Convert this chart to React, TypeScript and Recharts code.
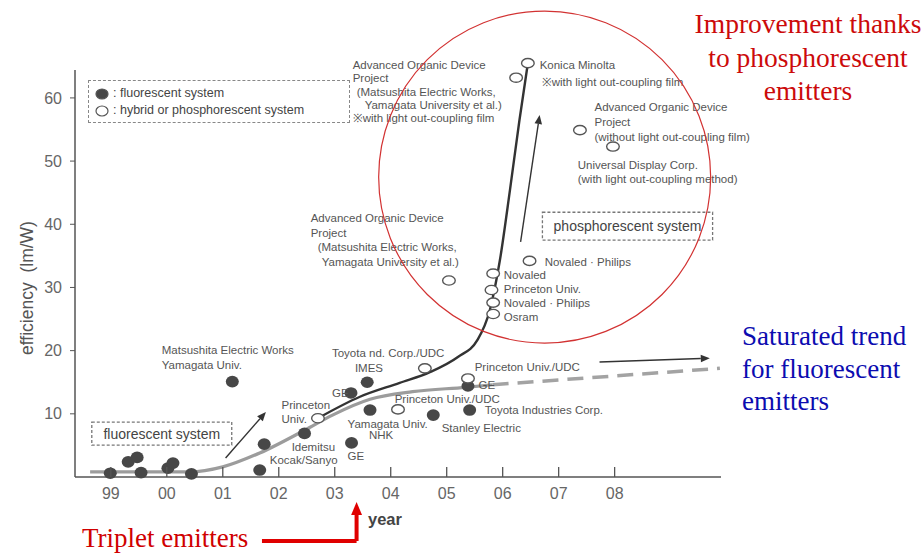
import React from 'react';
import {
  ComposedChart,
  Line,
  Scatter,
  XAxis,
  YAxis,
  ReferenceLine,
  ReferenceDot,
  ReferenceArea,
  Legend,
} from 'recharts';

const SANS = '"Liberation Sans", Arial, sans-serif';
const SERIF = '"Liberation Serif", "Times New Roman", serif';

// axes
const YEAR_TICKS = [1999, 2000, 2001, 2002, 2003, 2004, 2005, 2006, 2007, 2008];
const EFF_TICKS = [10, 20, 30, 40, 50, 60];
const X_DOMAIN = [1998.36, 2009.9];
const Y_DOMAIN = [0, 66];
const Y_AXIS_TOP = 64.4;

// filled dots: fluorescent devices (year, lm/W)
const fluorescentDevices = [
  { year: 1998.99, eff: 0.6 },
  { year: 1999.31, eff: 2.4 },
  { year: 1999.47, eff: 3.1 },
  { year: 1999.54, eff: 0.7 },
  { year: 2000.02, eff: 1.4 },
  { year: 2000.11, eff: 2.2 },
  { year: 2000.44, eff: 0.5 },
  { year: 2001.17, eff: 15.1 },
  { year: 2001.74, eff: 5.2 },
  { year: 2001.66, eff: 1.1 },
  { year: 2002.46, eff: 6.9 },
  { year: 2003.29, eff: 13.3 },
  { year: 2003.58, eff: 15.0 },
  { year: 2003.63, eff: 10.6 },
  { year: 2003.3, eff: 5.4 },
  { year: 2004.76, eff: 9.8 },
  { year: 2005.41, eff: 10.6 },
  { year: 2005.38, eff: 14.4 },
];

// open dots: hybrid or phosphorescent devices
const phosphorescentDevices = [
  { year: 2002.7, eff: 9.3 },
  { year: 2004.13, eff: 10.7 },
  { year: 2004.61, eff: 17.2 },
  { year: 2005.38, eff: 15.6 },
  { year: 2005.04, eff: 31.1 },
  { year: 2005.83, eff: 32.2 },
  { year: 2005.8, eff: 29.6 },
  { year: 2005.83, eff: 27.6 },
  { year: 2005.83, eff: 25.8 },
  { year: 2006.48, eff: 34.2 },
  { year: 2006.45, eff: 65.5 },
  { year: 2006.24, eff: 63.2 },
  { year: 2007.38, eff: 54.9 },
  { year: 2007.97, eff: 52.3 },
];

// hand-drawn trend curves
const fluorescentTrend = [
  { year: 1998.63, eff: 0.8 },
  { year: 2000.41, eff: 0.8 },
  { year: 2001.0, eff: 1.6 },
  { year: 2001.66, eff: 3.8 },
  { year: 2002.46, eff: 7.4 },
  { year: 2002.96, eff: 9.8 },
  { year: 2003.63, eff: 12.3 },
  { year: 2004.39, eff: 13.5 },
  { year: 2005.34, eff: 14.2 },
  { year: 2005.82, eff: 14.6 },
];
const fluorescentOutlook = [
  { year: 2005.82, eff: 14.6 },
  { year: 2009.88, eff: 17.2 },
];
const phosphorescentTrend = [
  { year: 2002.7, eff: 9.3 },
  { year: 2003.45, eff: 12.7 },
  { year: 2004.16, eff: 14.9 },
  { year: 2004.7, eff: 16.6 },
  { year: 2005.2, eff: 19.0 },
  { year: 2005.55, eff: 21.7 },
  { year: 2005.77, eff: 26.4 },
  { year: 2005.95, eff: 34.3 },
  { year: 2006.13, eff: 45.4 },
  { year: 2006.3, eff: 56.5 },
  { year: 2006.45, eff: 65.5 },
];

// device labels, anchored at the first line's baseline (year, lm/W)
const deviceLabels = [
  { year: 2003.32, eff: 64.56, lh: 13.3, indent: [0, 0, 4, 12, 0],
    lines: ['Advanced Organic Device', 'Project', '(Matsushita Electric Works,', 'Yamagata University et al.)', '※with light out-coupling film'] },
  { year: 2006.66, eff: 64.56, lh: 17, indent: [0, 2],
    lines: ['Konica Minolta', '※with light out-coupling film'] },
  { year: 2007.64, eff: 57.9, lh: 15,
    lines: ['Advanced Organic Device', 'Project', '(without light out-coupling film)'] },
  { year: 2007.34, eff: 48.7, lh: 14,
    lines: ['Universal Display Corp.', '(with light out-coupling method)'] },
  { year: 2002.57, eff: 40.35, lh: 14.7, indent: [0, 0, 7, 11],
    lines: ['Advanced Organic Device', 'Project', '(Matsushita Electric Works,', 'Yamagata University et al.)'] },
  { year: 2006.75, eff: 33.4, lines: ['Novaled · Philips'] },
  { year: 2006.02, eff: 31.3, lh: 14,
    lines: ['Novaled', 'Princeton Univ.', 'Novaled · Philips', 'Osram'] },
  { year: 1999.91, eff: 19.46, lh: 15, lines: ['Matsushita Electric Works', 'Yamagata Univ.'] },
  { year: 2002.95, eff: 19.0, lines: ['Toyota nd. Corp./UDC'] },
  { year: 2003.36, eff: 16.6, lines: ['IMES'] },
  { year: 2002.95, eff: 12.66, lines: ['GE'] },
  { year: 2002.05, eff: 10.76, lh: 14, lines: ['Princeton', 'Univ.'] },
  { year: 2002.23, eff: 4.11, lines: ['Idemitsu'] },
  { year: 2001.84, eff: 2.06, lines: ['Kocak/Sanyo'] },
  { year: 2003.23, eff: 2.69, lines: ['GE'] },
  { year: 2003.23, eff: 7.75, lines: ['Yamagata Univ.'] },
  { year: 2003.61, eff: 6.0, lines: ['NHK'] },
  { year: 2004.91, eff: 7.12, lines: ['Stanley Electric'] },
  { year: 2004.07, eff: 11.7, lines: ['Princeton Univ./UDC'] },
  { year: 2005.68, eff: 9.97, lines: ['Toyota Industries Corp.'] },
  { year: 2005.5, eff: 16.77, lines: ['Princeton Univ./UDC'] },
  { year: 2005.57, eff: 13.9, lines: ['GE'] },
];

// annotation arrows (year, lm/W)
const ARROWS = [
  { from: { x: 2001.05, y: 3.0 }, to: { x: 2001.77, y: 10.3 } },
  { from: { x: 2006.32, y: 37.2 }, to: { x: 2006.66, y: 57.3 } },
  { from: { x: 2007.73, y: 18.2 }, to: { x: 2009.7, y: 18.8 } },
];
const TRIPLET_ARROW = [
  { x: 2001.7, y: -10.13 },
  { x: 2003.39, y: -10.13 },
  { x: 2003.39, y: -3.96 },
];

const arrowShape = (color: string, width: number, head: number) => (p: any) => {
  const { x1, y1, x2, y2 } = p;
  const a = Math.atan2(y2 - y1, x2 - x1);
  const bx = x2 - head * Math.cos(a);
  const by = y2 - head * Math.sin(a);
  const w = head * 0.42;
  const pts = `${x2},${y2} ${bx + w * Math.sin(a)},${by - w * Math.cos(a)} ${bx - w * Math.sin(a)},${by + w * Math.cos(a)}`;
  return (
    <g>
      <line x1={x1} y1={y1} x2={bx} y2={by} stroke={color} strokeWidth={width} />
      <polygon points={pts} fill={color} />
    </g>
  );
};

const FilledDot = ({ cx, cy }: any) => <ellipse cx={cx} cy={cy} rx={6.5} ry={5.8} fill="#474747" />;
const OpenDot = ({ cx, cy }: any) => (
  <ellipse cx={cx} cy={cy} rx={6.3} ry={4.6} fill="#ffffff" stroke="#555" strokeWidth={1.4} />
);

const DeviceLabel = ({ cx, cy, payload }: any) => (
  <text x={cx} y={cy} fontSize={11.5} fill="#555" fontFamily={SANS}>
    {payload.lines.map((line: string, i: number) => (
      <tspan key={i} x={cx + (payload.indent?.[i] ?? 0)} dy={i === 0 ? 0 : payload.lh ?? 14}>
        {line}
      </tspan>
    ))}
  </text>
);

const YearTick = ({ x, y, payload }: any) => (
  <g>
    <line x1={x} y1={y} x2={x} y2={y - 10} stroke="#555" strokeWidth={1.3} />
    <text x={x} y={y + 22} textAnchor="middle" fontSize={16} fill="#666" fontFamily={SANS}>
      {String(payload.value).slice(2)}
    </text>
  </g>
);

const DEVICE_SERIES = ['fluorescent system', 'hybrid or phosphorescent system'];

const renderLegend = ({ payload = [] }: any) => (
  <div
    style={{
      boxSizing: 'border-box',
      width: 262,
      height: 43,
      border: '1.5px dashed #888',
      padding: '4px 0 0 6px',
      fontFamily: SANS,
      fontSize: 12.5,
      color: '#444',
      lineHeight: '17px',
    }}
  >
    {payload
      .filter((entry: any) => entry.type !== 'none' && DEVICE_SERIES.includes(entry.value))
      .map((entry: any) => (
        <div key={entry.value} style={{ display: 'flex', alignItems: 'center' }}>
          <svg width={14} height={12} style={{ marginRight: 4 }}>
            <ellipse cx={7} cy={6} rx={6} ry={5} fill={entry.color} stroke="#555" strokeWidth={1.2} />
          </svg>
          <span>: {entry.value}</span>
        </div>
      ))}
  </div>
);

const App: React.FC = () => {
  return (
    <div style={{ position: 'absolute', left: 0, top: 0, width: 923, height: 553, background: '#fff' }}>
      <ComposedChart width={923} height={553} margin={{ top: 60, right: 202, bottom: 0, left: 0 }}>
        <XAxis
          type="number"
          dataKey="year"
          domain={X_DOMAIN}
          ticks={YEAR_TICKS}
          height={76}
          tickSize={0}
          tickMargin={0}
          tickLine={false}
          axisLine={{ stroke: '#555', strokeWidth: 1.5 }}
          tick={<YearTick />}
        />
        <YAxis
          type="number"
          dataKey="eff"
          domain={Y_DOMAIN}
          ticks={EFF_TICKS}
          width={75}
          axisLine={false}
          tickSize={5}
          tickMargin={8}
          tickLine={{ stroke: '#555' }}
          tick={{ fontSize: 16, fill: '#666', fontFamily: SANS }}
        />
        <Legend
          layout="vertical"
          align="center"
          verticalAlign="middle"
          content={renderLegend}
          wrapperStyle={{ left: 88, top: 80, width: 262, height: 43 }}
        />

        <ReferenceLine
          segment={[{ x: X_DOMAIN[0], y: 0 }, { x: X_DOMAIN[0], y: Y_AXIS_TOP }]}
          stroke="#555"
          strokeWidth={1.5}
          ifOverflow="visible"
        />

        <ReferenceArea
          x1={1998.66}
          x2={2001.16}
          y1={5.06}
          y2={8.7}
          fill="#fff"
          fillOpacity={1}
          stroke="#777"
          strokeWidth={1.3}
          strokeDasharray="3 2"
          label={{ value: 'fluorescent system', position: 'center', fontSize: 14, fill: '#444', fontFamily: SANS }}
        />
        <ReferenceArea
          x1={2006.71}
          x2={2009.75}
          y1={37.5}
          y2={41.9}
          fill="#fff"
          fillOpacity={1}
          stroke="#777"
          strokeWidth={1.3}
          strokeDasharray="3 2"
          label={{ value: 'phosphorescent system', position: 'center', fontSize: 14, fill: '#444', fontFamily: SANS }}
        />

        <Line data={fluorescentTrend} dataKey="eff" type="monotone" stroke="#9c9c9c" strokeWidth={3.2}
          dot={false} activeDot={false} legendType="none" isAnimationActive={false} />
        <Line data={fluorescentOutlook} dataKey="eff" type="linear" stroke="#a3a3a3" strokeWidth={3.5}
          strokeDasharray="16 9" dot={false} activeDot={false} legendType="none" isAnimationActive={false} />
        <Line data={phosphorescentTrend} dataKey="eff" type="monotone" stroke="#333" strokeWidth={2.4}
          dot={false} activeDot={false} legendType="none" isAnimationActive={false} />

        {ARROWS.map((a, i) => (
          <ReferenceLine key={i} segment={[a.from, a.to]} ifOverflow="visible" shape={arrowShape('#333', 1.4, 9)} />
        ))}
        <ReferenceLine segment={[TRIPLET_ARROW[0], TRIPLET_ARROW[1]]} stroke="#e00000" strokeWidth={4} ifOverflow="visible" />
        <ReferenceLine segment={[TRIPLET_ARROW[1], TRIPLET_ARROW[2]]} ifOverflow="visible"
          shape={arrowShape('#e00000', 4, 13)} />

        <Scatter name="fluorescent system" data={fluorescentDevices} fill="#474747" shape={FilledDot} isAnimationActive={false} />
        <Scatter name="hybrid or phosphorescent system" data={phosphorescentDevices} fill="#ffffff" shape={OpenDot} isAnimationActive={false} />
        <Scatter name="labels" data={deviceLabels} legendType="none" shape={DeviceLabel} isAnimationActive={false} />

        <ReferenceDot x={2006.75} y={47.47} r={166} fill="none" stroke="#d23232" strokeWidth={1.2} ifOverflow="visible" />

        <text transform="rotate(-90 27 288)" x={27} y={288} textAnchor="middle" dominantBaseline="central"
          fontSize={17.5} fill="#555" fontFamily={SANS}>
          efficiency {'\u00a0'}(lm/W)
        </text>
        <text x={368} y={525} fontSize={16.5} fontWeight="bold" fill="#444" fontFamily={SANS}>year</text>

        <text x={82} y={547} fontSize={27} fill="#d00000" fontFamily={SERIF}>Triplet emitters</text>
        <text textAnchor="middle" fontSize={27.5} fill="#cc0a0a" fontFamily={SERIF}>
          <tspan x={808} y={33}>Improvement thanks</tspan>
          <tspan x={808} y={67}>to phosphorescent</tspan>
          <tspan x={808} y={100}>emitters</tspan>
        </text>
        <text fontSize={27} fill="#0c0cb0" fontFamily={SERIF}>
          <tspan x={742} y={345}>Saturated trend</tspan>
          <tspan x={742} y={378}>for fluorescent</tspan>
          <tspan x={742} y={410}>emitters</tspan>
        </text>
      </ComposedChart>
    </div>
  );
};

export default App;
